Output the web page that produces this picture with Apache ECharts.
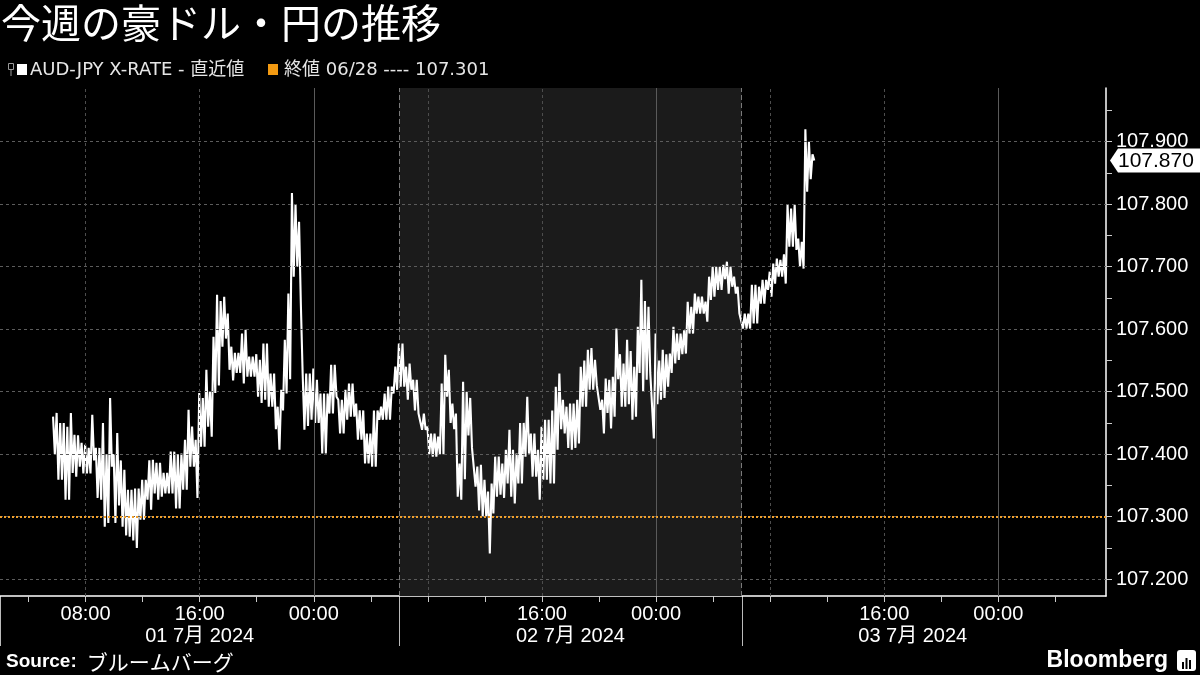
<!DOCTYPE html>
<html><head><meta charset="utf-8">
<script src="https://cdn.jsdelivr.net/npm/echarts@6/dist/echarts.min.js"></script>
<style>html,body{margin:0;padding:0;background:#000;}#c{width:1200px;height:675px;}</style>
</head><body><div id="c"></div>
<script>
// ---- data (hours since 01 Jul 2024 00:00); each 15-min bucket: high then low ----
const startHour = 5.72;
const stepHours = 0.25;
const highValues = [
107.460,107.466,107.450,107.450,107.444,107.466,107.431,107.430,107.418,107.415,
107.410,107.463,107.410,107.410,107.450,107.400,107.490,107.400,107.434,107.390,
107.375,107.343,107.343,107.345,107.345,107.359,107.359,107.390,107.391,107.386,
107.386,107.370,107.370,107.404,107.404,107.400,107.401,107.423,107.471,107.444,
107.423,107.498,107.490,107.535,107.500,107.588,107.655,107.645,107.652,107.625,
107.572,107.562,107.562,107.593,107.599,107.556,107.556,107.560,107.551,107.577,
107.577,107.529,107.529,107.476,107.503,107.583,107.657,107.818,107.800,107.772,
107.530,107.529,107.529,107.537,107.519,107.497,107.497,107.497,107.543,107.543,
107.487,107.487,107.503,107.513,107.513,107.481,107.470,107.470,107.433,107.433,
107.470,107.470,107.476,107.497,107.508,107.508,107.540,107.577,107.577,107.540,
107.545,107.519,107.519,107.465,107.465,107.444,107.433,107.433,107.428,107.513,
107.559,107.535,107.481,107.465,107.385,107.516,107.500,107.490,107.410,107.380,
107.383,107.359,107.340,107.353,107.396,107.396,107.385,107.407,107.439,107.407,
107.401,107.450,107.450,107.492,107.433,107.433,107.407,107.444,107.455,107.455,
107.470,107.508,107.529,107.487,107.476,107.481,107.481,107.487,107.540,107.550,
107.567,107.570,107.551,107.513,107.487,107.521,107.519,107.524,107.601,107.560,
107.545,107.583,107.565,107.540,107.604,107.679,107.645,107.636,107.530,107.593,
107.550,107.567,107.560,107.561,107.604,107.593,107.593,107.598,107.644,107.636,
107.657,107.652,107.652,107.644,107.684,107.700,107.700,107.700,107.703,107.708,
107.700,107.684,107.668,107.625,107.625,107.625,107.671,107.671,107.668,107.679,
107.679,107.692,107.705,107.713,107.711,107.720,107.799,107.793,107.799,107.745,
107.740,107.920,107.900,107.880
];
const lowValues = [
107.400,107.359,107.359,107.327,107.327,107.370,107.364,107.380,107.369,107.369,
107.369,107.390,107.330,107.327,107.284,107.290,107.380,107.290,107.318,107.284,
107.270,107.268,107.262,107.250,107.295,107.295,107.327,107.311,107.337,107.327,
107.332,107.337,107.337,107.337,107.313,107.313,107.343,107.343,107.380,107.380,
107.330,107.412,107.412,107.444,107.428,107.498,107.510,107.572,107.585,107.535,
107.518,107.530,107.530,107.513,107.524,107.524,107.524,107.492,107.482,107.487,
107.476,107.476,107.440,107.407,107.470,107.497,107.520,107.684,107.700,107.640,
107.439,107.445,107.455,107.450,107.450,107.401,107.401,107.465,107.465,107.492,
107.433,107.433,107.455,107.460,107.460,107.423,107.423,107.385,107.385,107.380,
107.380,107.455,107.455,107.455,107.455,107.497,107.503,107.508,107.508,107.487,
107.503,107.470,107.465,107.439,107.439,107.400,107.396,107.396,107.400,107.400,
107.492,107.450,107.440,107.332,107.327,107.360,107.430,107.410,107.348,107.310,
107.300,107.300,107.241,107.305,107.332,107.335,107.330,107.353,107.332,107.321,
107.353,107.353,107.396,107.401,107.364,107.364,107.327,107.359,107.359,107.353,
107.353,107.407,107.440,107.433,107.410,107.407,107.410,107.417,107.476,107.476,
107.503,107.503,107.510,107.471,107.433,107.466,107.441,107.460,107.520,107.476,
107.476,107.480,107.455,107.460,107.530,107.500,107.519,107.530,107.425,107.480,
107.487,107.490,107.508,107.530,107.545,107.551,107.560,107.561,107.593,107.593,
107.625,107.625,107.625,107.612,107.647,107.652,107.663,107.663,107.680,107.657,
107.668,107.657,107.625,107.601,107.601,107.601,107.609,107.609,107.641,107.641,
107.663,107.652,107.673,107.684,107.684,107.673,107.732,107.732,107.727,107.700,
107.697,107.820,107.840,107.870
];
const closeValue = 107.301;
const lastValue = 107.870;
const xMinHour = 2, xMaxHour = 79.55;
const yMin = 107.173, yMax = 107.986;
const dayBoundHours = [2, 30, 54, 78];
const dayLabels = ['01 7月 2024', '02 7月 2024', '03 7月 2024'];
const timeTickHours = [8, 16, 24, 40, 48, 64, 72];
const timeTickLabels = ['08:00', '16:00', '00:00', '16:00', '00:00', '16:00', '00:00'];
const gridHours = [8, 16, 24, 32, 40, 48, 56, 64, 72];
const minorTickHours = [4, 8, 12, 16, 20, 24, 28, 32, 36, 40, 44, 48, 52, 56, 60, 64, 68, 72, 76];
const yTicks = [107.2, 107.3, 107.4, 107.5, 107.6, 107.7, 107.8, 107.9];
const yMinorTicks = [107.2, 107.25, 107.3, 107.35, 107.4, 107.45, 107.5, 107.55, 107.6, 107.65, 107.7, 107.75, 107.8, 107.85, 107.9, 107.95];
const shadeHours = [30, 54];
const titleText = '今週の豪ドル・円の推移';
const seriesName = 'AUD-JPY X-RATE - 直近値';
const closeName = '終値 06/28 ---- ';

const FONT = "'Liberation Sans', 'Noto Sans CJK JP', sans-serif";
const LFONT = "'DejaVu Sans', 'Noto Sans CJK JP', sans-serif";
const dayCenterHours = dayLabels.map((_, i) => (dayBoundHours[i] + dayBoundHours[i + 1]) / 2);
const seriesData = [];
highValues.forEach((h, i) => {
  const t = startHour + i * stepHours;
  seriesData.push([t, h]);
  seriesData.push([t + stepHours / 2, lowValues[i]]);
});

const chart = echarts.init(document.getElementById('c'));
const option = {
  backgroundColor: '#000',
  animation: false,
  grid: { left: 0, right: 94, top: 88, bottom: 79 },
  xAxis: [
    {
      type: 'value', min: xMinHour, max: xMaxHour, position: 'bottom',
      axisLine: { show: true, onZero: false, lineStyle: { color: '#fff', width: 1.5 } },
      axisTick: { show: true, customValues: minorTickHours, length: 6, lineStyle: { color: '#ccc' } },
      axisLabel: {
        show: true, customValues: timeTickHours,
        formatter: v => { const k = timeTickHours.indexOf(v); return k >= 0 ? timeTickLabels[k] : ''; },
        color: '#fff', fontSize: 20, fontFamily: FONT, margin: 8
      },
      splitLine: { show: false }
    },
    {
      type: 'value', min: xMinHour, max: xMaxHour, position: 'bottom', offset: 0,
      axisLine: { show: false, onZero: false }, axisTick: { show: false },
      axisLabel: {
        show: true, customValues: dayCenterHours,
        formatter: v => { const k = dayCenterHours.indexOf(v); return k >= 0 ? dayLabels[k] : ''; },
        color: '#fff', fontSize: 20, fontFamily: FONT, margin: 30
      },
      splitLine: { show: false }
    }
  ],
  yAxis: {
    type: 'value', position: 'right', min: yMin, max: yMax,
    axisLine: { show: true, lineStyle: { color: '#fff', width: 1.5 } },
    axisTick: { show: true, customValues: yMinorTicks, length: 6, lineStyle: { color: '#ccc' } },
    axisLabel: { show: true, customValues: yTicks, formatter: v => v.toFixed(3), color: '#fff', fontSize: 20, fontFamily: FONT, margin: 10 },
    splitLine: { show: false }
  },
  series: [
    {
      type: 'line', name: 'bg', data: [], z: 1, silent: true,
      markArea: { silent: true, itemStyle: { color: '#1b1b1b' }, data: [[{ xAxis: shadeHours[0] }, { xAxis: shadeHours[1] }]] },
      markLine: {
        silent: true, symbol: ['none', 'none'], label: { show: false }, animation: false,
        data: [
          ...yTicks.map(v => ({ yAxis: v, lineStyle: { type: [3, 3], color: '#5c5c5c', width: 1 } })),
          ...gridHours.map(h => ({ xAxis: h, lineStyle: { type: h % 24 === 0 ? 'solid' : [3, 3], color: h % 24 === 0 ? '#5a5a5a' : '#4d4d4d', width: 1 } })),
          ...dayBoundHours.slice(1, 3).map(h => ({ xAxis: h, lineStyle: { type: [5, 3], color: '#7a7a7a', width: 1 } }))
        ]
      }
    },
    {
      type: 'line', name: seriesName, data: seriesData, z: 3, showSymbol: false, symbol: 'none',
      lineStyle: { color: '#fff', width: 2.1 }, silent: true
    },
    {
      type: 'line', name: 'close', data: [], z: 5, silent: true,
      markLine: {
        silent: true, symbol: ['none', 'none'], label: { show: false }, animation: false,
        data: [{ yAxis: closeValue, lineStyle: { type: [2, 2], color: '#f0a02c', width: 2 } }]
      }
    }
  ]
};
chart.setOption(option);

const px = (h, v) => chart.convertToPixel({ xAxisIndex: 0, yAxisIndex: 0 }, [h, v]);
const bottomY = px(xMinHour, yMin)[1];
const graphics = [];
dayBoundHours.slice(0, 3).forEach(h => {
  const x = Math.round(px(h, yMin)[0]) + 0.5;
  graphics.push({ type: 'line', shape: { x1: x, y1: bottomY, x2: x, y2: 646 }, style: { stroke: '#bbb', lineWidth: 1 } });
});
// last value tag
const lp = px(xMaxHour, lastValue);
const ax = lp[0], ly = lp[1];
graphics.push({ type: 'polygon', shape: { points: [[ax + 4, ly], [ax + 12, ly - 12], [1200, ly - 12], [1200, ly + 12], [ax + 12, ly + 12]] }, style: { fill: '#fff' } });
graphics.push({ type: 'text', x: ax + 12, y: ly + 1, style: { text: lastValue.toFixed(3), fill: '#000', font: "21px " + FONT, textVerticalAlign: 'middle' } });
// title
graphics.push({ type: 'text', x: 1, y: 23, style: { text: titleText, fill: '#fff', font: "40px 'Noto Sans CJK JP'", textVerticalAlign: 'middle' } });
// legend
graphics.push({ type: 'rect', shape: { x: 8.5, y: 63.5, width: 5, height: 6 }, style: { fill: 'none', stroke: '#999', lineWidth: 1 } });
graphics.push({ type: 'line', shape: { x1: 11, y1: 70, x2: 11, y2: 76 }, style: { stroke: '#999', lineWidth: 1 } });
graphics.push({ type: 'rect', shape: { x: 17, y: 64, width: 10, height: 11 }, style: { fill: '#fff' } });
graphics.push({ type: 'text', x: 30, y: 70, style: { text: seriesName, fill: '#e6e6e6', font: "18px " + LFONT, textVerticalAlign: 'middle' } });
graphics.push({ type: 'rect', shape: { x: 268, y: 64, width: 10, height: 11 }, style: { fill: '#f29a12' } });
graphics.push({ type: 'text', x: 284, y: 70, style: { text: closeName + closeValue.toFixed(3), fill: '#e6e6e6', font: "18px " + LFONT, textVerticalAlign: 'middle' } });
// source
graphics.push({ type: 'text', x: 6, y: 662, style: { text: '{b|Source:}  {k|ブルームバーグ}', fill: '#fff', font: "18px " + FONT, textVerticalAlign: 'middle', rich: { b: { fontWeight: 'bold', fontSize: 19, fontFamily: FONT, fill: '#fff' }, k: { fontSize: 21, fontFamily: "'Noto Sans CJK JP'", fill: '#fff' } } } });
// Bloomberg logo
graphics.push({ type: 'text', x: 1168, y: 661, style: { text: 'Bloomberg', fill: '#fff', font: "bold 23px " + FONT, textAlign: 'right', textVerticalAlign: 'middle' } });
graphics.push({ type: 'rect', shape: { x: 1177, y: 650, width: 19, height: 21, r: 3 }, style: { fill: '#fff' } });
[[1182, 662, 7], [1185.5, 658, 11], [1189, 660, 9]].forEach(b => graphics.push({ type: 'rect', shape: { x: b[0], y: b[1], width: 2, height: b[2] }, style: { fill: '#000' } }));
chart.setOption({ graphic: graphics });
</script></body></html>
